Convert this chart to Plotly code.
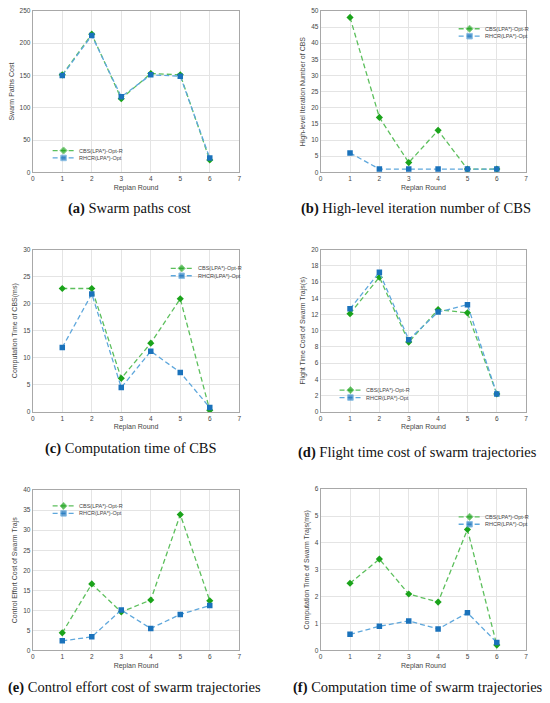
"""
Replan comparison: CBS(LPA*)-Opt-R vs RHCR(LPA*)-Opt, six panels
"""
import plotly.graph_objects as go
from plotly.subplots import make_subplots

rounds = [1, 2, 3, 4, 5, 6]
names = ["CBS(LPA*)-Opt-R", "RHCR(LPA*)-Opt"]

# (a) swarm paths cost
paths_cbs = [151, 214, 114, 153, 151, 19]
paths_rhcr = [150, 212, 117, 151, 149, 22]
# (b) high-level iteration number of CBS
iter_cbs = [48, 17, 3, 13, 1, 1]
iter_rhcr = [6, 1, 1, 1, 1, 1]
# (c) computation time of CBS (ms)
cbs_time_cbs = [22.8, 22.8, 6.2, 12.7, 20.9, 0.3]
cbs_time_rhcr = [11.9, 21.8, 4.5, 11.2, 7.3, 0.8]
# (d) flight time cost (s)
flight_cbs = [12.1, 16.6, 8.6, 12.6, 12.2, 2.2]
flight_rhcr = [12.7, 17.2, 8.9, 12.3, 13.2, 2.2]
# (e) control effort cost
effort_cbs = [4.4, 16.6, 9.6, 12.6, 33.9, 12.4]
effort_rhcr = [2.4, 3.4, 10.1, 5.5, 9.0, 11.2]
# (f) computation time of trajectories (ms)
traj_cbs = [2.5, 3.4, 2.1, 1.8, 4.5, 0.2]
traj_rhcr = [0.6, 0.9, 1.1, 0.8, 1.4, 0.3]

y_titles = [
    "Swarm Paths Cost",
    "High-level Iteration Number of CBS",
    "Computation Time of CBS(ms)",
    "Flight Time Cost of Swarm Trajs(s)",
    "Control Effort Cost of Swarm Trajs",
    "Computation Time of Swarm Trajs(ms)",
]
captions = [
    ("(a)", "Swarm paths cost"),
    ("(b)", "High-level iteration number of CBS"),
    ("(c)", "Computation time of CBS"),
    ("(d)", "Flight time cost of swarm trajectories"),
    ("(e)", "Control effort cost of swarm trajectories"),
    ("(f)", "Computation time of swarm trajectories"),
]
y_ranges = [(0, 250, 50), (0, 50, 5), (0, 30, 5), (0, 20, 2), (0, 40, 5), (0, 6, 1)]
series = [
    (paths_cbs, paths_rhcr),
    (iter_cbs, iter_rhcr),
    (cbs_time_cbs, cbs_time_rhcr),
    (flight_cbs, flight_rhcr),
    (effort_cbs, effort_rhcr),
    (traj_cbs, traj_rhcr),
]

W, H = 550, 703
# axes boxes in pixels: left, right, top, bottom
boxes = [
    (31, 239, 7, 170), (321, 528, 7, 170),
    (31, 239, 248, 412), (321, 528, 248, 412),
    (31, 239, 491, 653), (321, 528, 490, 653),
]
# legend key: start of the sample line and first row, in pixels
legend_pos = [(51, 148), (460, 25), (170, 267), (340, 390), (51, 507), (460, 518)]
ROW_GAP = 7.5
KEY_LEN = 22
# caption centre, in pixels
caption_pos = [(128, 207), (417, 207), (130, 449), (419, 453), (133, 690), (419, 690)]

GREEN = "#1aa31a"
GREEN_LINE = "#5cbf5c"
BLUE = "#1a72bb"
BLUE_LINE = "#5ea7dc"
TXT = "#454545"
DASH = "5px,3px"

styles = [
    dict(line=dict(color=GREEN_LINE, width=1.3, dash=DASH),
         marker=dict(symbol="diamond", size=5.5, color=GREEN)),
    dict(line=dict(color=BLUE_LINE, width=1.3, dash=DASH),
         marker=dict(symbol="square", size=5.5, color=BLUE)),
]

fig = make_subplots(rows=3, cols=2)

annotations = []
for i, pair in enumerate(series):
    row, col = i // 2 + 1, i % 2 + 1
    for values, name, style in zip(pair, names, styles):
        fig.add_trace(go.Scatter(
            x=rounds, y=values, name=name, mode="lines+markers",
            showlegend=False, **style,
        ), row=row, col=col)

    left, right, top, bottom = boxes[i]
    suffix = "" if i == 0 else str(i + 1)
    y0, y1, dy = y_ranges[i]
    common = dict(
        showline=True, linecolor="#a8a8a8", linewidth=1, mirror=True,
        showgrid=True, gridcolor="#e4e4e4", gridwidth=1, zeroline=False,
        ticks="", tickfont=dict(family="Liberation Sans", size=6.5, color=TXT),
    )
    fig.layout["xaxis" + suffix].update(
        domain=[left / W, right / W], range=[0, 7], dtick=1, tick0=0,
        title=dict(text="Replan Round", standoff=3,
                   font=dict(family="Liberation Sans", size=7, color=TXT)),
        **common,
    )
    fig.layout["yaxis" + suffix].update(
        domain=[1 - bottom / H, 1 - top / H], range=[y0, y1], dtick=dy, tick0=0,
        title=dict(text=y_titles[i], standoff=4,
                   font=dict(family="Liberation Sans", size=7, color=TXT)),
        **common,
    )

    # compact legend key, drawn on a page-sized pixel overlay
    lx, ly = legend_pos[i]
    for k, (name, style) in enumerate(zip(names, styles)):
        ry = ly + k * ROW_GAP
        fig.add_trace(go.Scatter(
            x=[lx, lx + KEY_LEN / 2, lx + KEY_LEN], y=[ry, ry, ry],
            mode="lines+markers", showlegend=False, hoverinfo="skip",
            xaxis="x7", yaxis="y7",
            line=style["line"],
            marker=dict(style["marker"], size=[0, style["marker"]["size"], 0]),
        ))
        annotations.append(dict(
            x=(lx + KEY_LEN + 3) / W, y=1 - ry / H, xref="paper", yref="paper",
            xanchor="left", yanchor="middle", showarrow=False, text=name,
            font=dict(family="Liberation Sans", size=5.5, color=TXT),
        ))

    cx, cy = caption_pos[i]
    tag, text = captions[i]
    annotations.append(dict(
        x=cx / W, y=1 - cy / H, xref="paper", yref="paper",
        xanchor="center", yanchor="middle", showarrow=False,
        text=f"<b>{tag}</b> {text}",
        font=dict(family="Liberation Serif", size=14.5, color="#111111"),
    ))

fig.update_layout(
    width=W, height=H, margin=dict(l=0, r=0, t=0, b=0),
    paper_bgcolor="white", plot_bgcolor="rgba(0,0,0,0)",
    annotations=annotations, showlegend=False,
    xaxis7=dict(domain=[0, 1], range=[0, W], visible=False, fixedrange=True),
    yaxis7=dict(domain=[0, 1], range=[H, 0], visible=False, fixedrange=True),
)

fig.write_html(
    "out.html",
    config={"displayModeBar": False},
    post_script="document.body.style.margin='0px';",
)
